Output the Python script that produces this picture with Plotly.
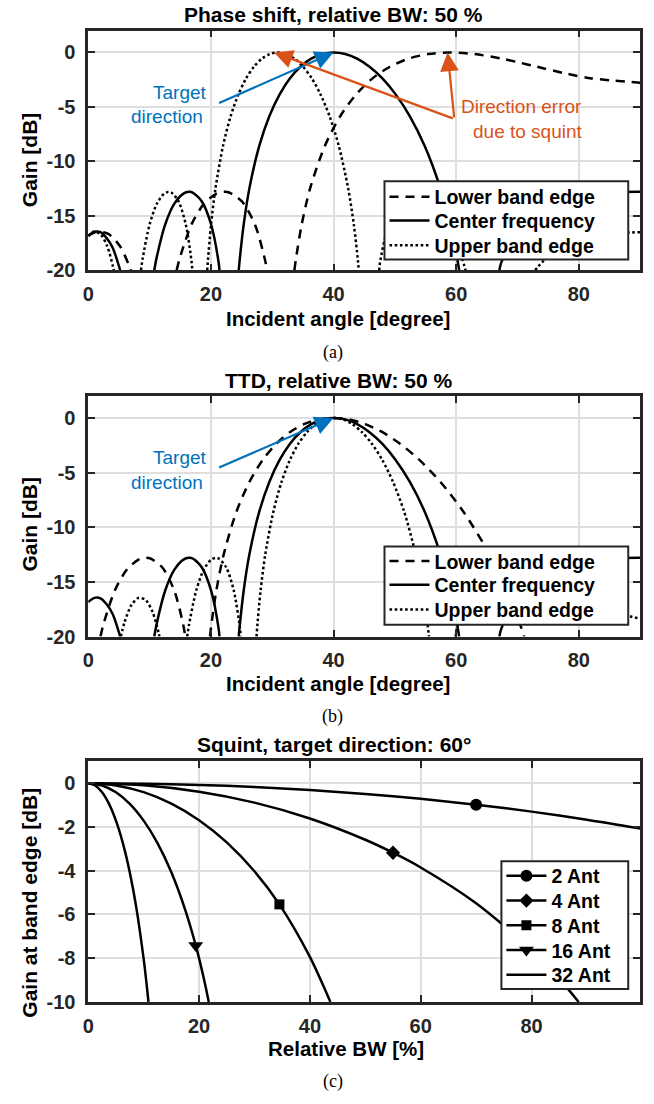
import plotly.graph_objects as go

W, H = 654, 1104

# ---------------- (a) Phase shift, relative BW 50 % ----------------
PS_LOWER_ANGLE = [0, 1.36, 3.27, 5.19, 6.72, 6.95, None,
                  14.42, 14.90, 16.88, 18.89, 20.92, 22.15, 22.98, 25.07, 27.20, 28.93, 29.10, None,
                  33.62, 33.85, 34.78, 36.18, 38.59, 41.08, 43.66, 46.36, 49.20, 52.22, 55.46, 58.99,
                  62.93, 67.46, 70.10, 73.17, 77.71, 82.06, 90]
PS_LOWER_GAIN = [-16.84, -16.46, -16.66, -17.80, -19.65, -20.0, None,
                 -20.0, -18.93, -15.74, -13.88, -12.96, -12.80, -12.86, -13.68, -15.82, -19.30, -20.0, None,
                 -20.0, -19.05, -15.88, -12.48, -8.58, -5.86, -3.87, -2.38, -1.31, -0.57, -0.14, 0.0,
                 -0.14, -0.57, -0.90, -1.31, -1.91, -2.38, -2.77]

CENTER_ANGLE = [0, 1, 2, 3, 4, 5, 5.2, None,
                10.77, 11.12, 12.58, 14.05, 15.53, 16.43, 17.03, 18.53, 20.05, 21.27, 21.40, None,
                24.54, 24.70, 25.33, 26.28, 27.89, 29.53, 31.19, 32.87, 34.60, 36.36, 38.16, 40,
                41.90, 43.85, 45.87, 47.97, 50.16, 52.45, 54.87, 57.44, 59.08, 60.21, 60.49, None,
                67.04, 67.35, 70.53, 75.42, 79.36, 83.12, 90]
CENTER_GAIN = [-16.84, -16.46, -16.50, -17.05, -17.95, -19.60, -20.0, None,
               -20.0, -18.93, -15.74, -13.88, -12.96, -12.80, -12.86, -13.68, -15.82, -19.30, -20.0, None,
               -20.0, -19.05, -15.88, -12.48, -8.58, -5.86, -3.87, -2.38, -1.31, -0.57, -0.14, 0.0,
               -0.14, -0.57, -1.31, -2.38, -3.87, -5.86, -8.58, -12.48, -15.88, -19.05, -20.0, None,
               -20.0, -19.30, -15.82, -13.68, -13.06, -12.86, -12.80]

PS_UPPER_ANGLE = [0, 0.82, 1.96, 3.11, 4.03, 4.17, None,
                  8.60, 8.87, 10.03, 11.20, 12.37, 13.07, 13.55, 14.73, 15.92, 16.87, 16.97, None,
                  19.40, 19.53, 20.01, 20.75, 21.98, 23.22, 24.47, 25.74, 27.02, 28.31, 29.62, 30.94,
                  32.29, 33.66, 35.05, 36.46, 37.90, 39.36, 40.86, 42.39, 43.33, 43.97, 44.12, None,
                  47.45, 47.58, 48.96, 50.74, 52.58, 53.34, 54.51, 56.54, 58.67, 60.96, 61.53, None,
                  72.89, 73.38, 76.93, 80.50, 83.83, 90]
PS_UPPER_GAIN = [-16.84, -16.46, -16.66, -17.80, -19.65, -20.0, None,
                 -20.0, -18.93, -15.74, -13.88, -12.96, -12.80, -12.86, -13.68, -15.82, -19.30, -20.0, None,
                 -20.0, -19.05, -15.88, -12.48, -8.58, -5.86, -3.87, -2.38, -1.31, -0.57, -0.14, 0.0,
                 -0.14, -0.57, -1.31, -2.38, -3.87, -5.86, -8.58, -12.48, -15.88, -19.05, -20.0, None,
                 -20.0, -19.30, -15.82, -13.68, -12.86, -12.80, -12.96, -13.88, -15.74, -18.93, -20.0, None,
                 -20.0, -19.65, -17.80, -16.99, -16.66, -16.50]

# ---------------- (b) TTD, relative BW 50 % ----------------
TTD_LOWER_ANGLE = [2.00, 2.45, 4.37, 6.29, 8.21, 9.37, 10.14, 12.09, 14.05, 15.63, 15.79, None,
                   19.85, 20.05, 20.86, 22.09, 24.17, 26.28, 28.43, 30.63, 32.87, 35.18, 37.55, 40,
                   42.54, 45.19, 47.97, 50.90, 54.05, 57.44, 61.18, 65.45, 68.36, 70.53, 71.10]
TTD_LOWER_GAIN = [-20.0, -18.93, -15.74, -13.88, -12.96, -12.80, -12.86, -13.68, -15.82, -19.30, -20.0, None,
                  -20.0, -19.05, -15.88, -12.48, -8.58, -5.86, -3.87, -2.38, -1.31, -0.57, -0.14, 0.0,
                  -0.14, -0.57, -1.31, -2.38, -3.87, -5.86, -8.58, -12.48, -15.88, -19.05, -20.0]

TTD_UPPER_ANGLE = [5.32, 5.90, 7.05, 8.21, 9.37, 10.53, 11.47, 11.61, None,
                   16.14, 16.43, 17.63, 18.83, 20.05, 20.78, 21.27, 22.51, 23.75, 24.76, 24.86, None,
                   27.44, 27.57, 28.09, 28.87, 30.19, 31.52, 32.87, 34.25, 35.65, 37.07, 38.52, 40,
                   41.51, 43.06, 44.65, 46.28, 47.97, 49.71, 51.52, 53.40, 54.57, 55.37, 55.57, None,
                   59.92, 60.09, 61.98, 64.53, 67.35, 68.55, 70.53, 74.35, 79.36, 84.20, 90]
TTD_UPPER_GAIN = [-20.0, -18.72, -17.11, -16.46, -16.66, -17.80, -19.65, -20.0, None,
                  -20.0, -18.93, -15.74, -13.88, -12.96, -12.80, -12.86, -13.68, -15.82, -19.30, -20.0, None,
                  -20.0, -19.05, -15.88, -12.48, -8.58, -5.86, -3.87, -2.38, -1.31, -0.57, -0.14, 0.0,
                  -0.14, -0.57, -1.31, -2.38, -3.87, -5.86, -8.58, -12.48, -15.88, -19.05, -20.0, None,
                  -20.0, -19.30, -15.82, -13.68, -12.86, -12.80, -12.96, -13.88, -15.74, -17.44, -18.37]

BAND_NAMES = ['Lower band edge', 'Center frequency', 'Upper band edge']

# ---------------- (c) Squint, target direction 60 deg ----------------
BW_2 = [0, 10, 20, 30, 40, 50, 60, 70, 80, 90, 99.6]
GAIN_2 = [0, -0.019, -0.077, -0.175, -0.313, -0.492, -0.714, -0.982, -1.299, -1.667, -2.075]
BW_4 = [0, 10, 20, 30, 40, 50, 55, 60, 70, 80, 85, 88.5]
GAIN_4 = [0, -0.097, -0.391, -0.889, -1.613, -2.585, -3.179, -3.853, -5.490, -7.625, -8.933, -10.0]
BW_8 = [0, 5, 10, 15, 20, 25, 30, 34.5, 40, 43, 43.7]
GAIN_8 = [0, -0.101, -0.410, -0.933, -1.690, -2.705, -4.028, -5.540, -7.939, -9.587, -10.0]
BW_16 = [0, 2.5, 5, 7.5, 10, 12.5, 15, 17.5, 19.4, 21, 21.75]
GAIN_16 = [0, -0.103, -0.415, -0.943, -1.710, -2.736, -4.072, -5.788, -7.416, -9.088, -10.0]
BW_32 = [0, 1.25, 2.5, 3.75, 5, 6.25, 7.5, 8.75, 10, 10.5, 10.87]
GAIN_32 = [0, -0.103, -0.416, -0.946, -1.714, -2.743, -4.082, -5.803, -8.036, -9.110, -10.0]
ANT_NAMES = ['2 Ant', '4 Ant', '8 Ant', '16 Ant', '32 Ant']
MARKER_INDEX = [7, 6, 7, 8]          # which sample of each curve carries the marker
MARKER_SYMBOLS = ['circle', 'diamond', 'square', 'triangle-down']
MARKER_SIZES = [12, 11, 10, 13]

# ---------------- styling ----------------
FONT = 'Liberation Sans, Arial, Helvetica, sans-serif'
SERIF = 'Liberation Serif, Times New Roman, serif'
AXC = '#262626'
BLUE = '#0072BD'
ORANGE = '#D95319'
LW = 2.5


def px(xp):
    return xp / W


def py(yp):
    return 1 - yp / H


X_DOM = [px(83), px(640)]
Y_DOM = {'a': [py(273), py(31)], 'b': [py(643), py(400)], 'c': [py(1012), py(769)]}

# legend boxes (left, top, right, bottom) and row centres, in pixels
LEG_BOX = {'a': (382, 183, 628, 262), 'b': (382, 552, 628, 631), 'c': (500, 870, 628, 999)}
LEG_ROWS = {'a': [199, 223, 248], 'b': [567, 591, 616], 'c': [885, 910, 935, 960, 985]}

fig = go.Figure()
leg_font = dict(family=FONT, size=19.5, color='black', weight='bold')
legend_layouts = {}
leg_counter = [0]


def new_legend(panel, row):
    leg_counter[0] += 1
    key = 'legend' if leg_counter[0] == 1 else 'legend%d' % leg_counter[0]
    legend_layouts[key] = dict(x=px(LEG_BOX[panel][0]), y=py(LEG_ROWS[panel][row]),
                               xanchor='left', yanchor='middle', bgcolor='rgba(0,0,0,0)',
                               borderwidth=0, font=leg_font, itemwidth=40)
    return key


band_dash = ['9px,7px', 'solid', '2.6px,2.6px']
panels_ab = [
    ('a', 'x', 'y', [(PS_LOWER_ANGLE, PS_LOWER_GAIN), (CENTER_ANGLE, CENTER_GAIN), (PS_UPPER_ANGLE, PS_UPPER_GAIN)]),
    ('b', 'x2', 'y2', [(TTD_LOWER_ANGLE, TTD_LOWER_GAIN), (CENTER_ANGLE, CENTER_GAIN), (TTD_UPPER_ANGLE, TTD_UPPER_GAIN)]),
]
for panel, xa, ya, series in panels_ab:
    for i, ((xs, ys), name, dash) in enumerate(zip(series, BAND_NAMES, band_dash)):
        fig.add_trace(go.Scatter(x=xs, y=ys, mode='lines', name=name, connectgaps=False,
                                 line=dict(color='black', width=LW, dash=dash, shape='spline', smoothing=0.8),
                                 xaxis=xa, yaxis=ya, legend=new_legend(panel, i)))

ant_curves = [(BW_2, GAIN_2), (BW_4, GAIN_4), (BW_8, GAIN_8), (BW_16, GAIN_16), (BW_32, GAIN_32)]
for (xs, ys) in ant_curves[:4]:
    fig.add_trace(go.Scatter(x=xs, y=ys, mode='lines', showlegend=False,
                             line=dict(color='black', width=LW, shape='spline', smoothing=0.8),
                             xaxis='x3', yaxis='y3'))
for i, ((xs, ys), name, idx, sym, sz) in enumerate(zip(ant_curves[:4], ANT_NAMES[:4], MARKER_INDEX,
                                                        MARKER_SYMBOLS, MARKER_SIZES)):
    fig.add_trace(go.Scatter(x=[xs[idx]], y=[ys[idx]], mode='lines+markers', name=name,
                             line=dict(color='black', width=LW),
                             marker=dict(symbol=sym, size=sz, color='black'),
                             xaxis='x3', yaxis='y3', legend=new_legend('c', i)))
fig.add_trace(go.Scatter(x=BW_32, y=GAIN_32, mode='lines', name=ANT_NAMES[4],
                         line=dict(color='black', width=LW, shape='spline', smoothing=0.8),
                         xaxis='x3', yaxis='y3', legend=new_legend('c', 4)))


def axis(domain, rng, vals, anchor, standoff):
    return dict(domain=domain, range=rng, anchor=anchor, tickvals=vals,
                ticktext=[('%g' % v) for v in vals],
                showline=True, linecolor=AXC, linewidth=2.5, mirror='ticks',
                ticks='inside', ticklen=7, tickwidth=2, tickcolor=AXC,
                showgrid=True, gridcolor='#dedede', gridwidth=2, zeroline=False,
                tickfont=dict(family=FONT, size=20, color=AXC, weight='bold'),
                ticklabelstandoff=standoff)


ang_ticks = [0, 20, 40, 60, 80]
db_ticks = [-20, -15, -10, -5, 0]
fig.update_layout(
    xaxis=axis(X_DOM, [0, 90], ang_ticks, 'y', 4),
    yaxis=axis(Y_DOM['a'], [-20, 2], db_ticks, 'x', 6),
    xaxis2=axis(X_DOM, [0, 90], ang_ticks, 'y2', 4),
    yaxis2=axis(Y_DOM['b'], [-20, 2], db_ticks, 'x2', 6),
    xaxis3=axis(X_DOM, [0, 99.6], ang_ticks, 'y3', 4),
    yaxis3=axis(Y_DOM['c'], [-10, 1], [-10, -8, -6, -4, -2, 0], 'x3', 6),
)
fig.update_layout(**legend_layouts)

shapes = []
for (x0, y0, x1, y1) in LEG_BOX.values():
    shapes.append(dict(type='rect', xref='paper', yref='paper', x0=px(x0), x1=px(x1), y0=py(y1), y1=py(y0),
                       fillcolor='white', line=dict(color=AXC, width=2), layer='above'))

ann = []


def text(xp, yp, s, size=21, bold=True, angle=0, family=FONT, color='black'):
    ann.append(dict(x=px(xp), y=py(yp), xref='paper', yref='paper', text=s, showarrow=False,
                    xanchor='center', yanchor='middle', textangle=angle,
                    font=dict(family=family, size=size, color=color, weight='bold' if bold else 'normal')))


# titles
text(331, 15, 'Phase shift, relative BW: 50 %')
text(336, 384, 'TTD, relative BW: 50 %')
text(331, 752, 'Squint, target direction: 60°')
# axis titles
text(335, 322, 'Incident angle [degree]', size=20.5)
text(335, 690, 'Incident angle [degree]', size=20.5)
text(343, 1059, 'Relative BW [%]', size=20.5)
text(24, 161, 'Gain [dB]', angle=-90)
text(24, 529, 'Gain [dB]', angle=-90)
text(24, 912, 'Gain at band edge [dB]', angle=-90)
# captions
text(330, 356, '(a)', size=18, bold=False, family=SERIF)
text(330, 724, '(b)', size=18, bold=False, family=SERIF)
text(330, 1092, '(c)', size=18, bold=False, family=SERIF)
# callout texts
text(176, 93, 'Target', size=19, bold=False, color=BLUE)
text(162, 118, 'direction', size=19, bold=False, color=BLUE)
text(176, 462, 'Target', size=19, bold=False, color=BLUE)
text(162, 487, 'direction', size=19, bold=False, color=BLUE)
text(520, 108, 'Direction error', size=19, bold=False, color=ORANGE)
text(527, 133, 'due to squint', size=19, bold=False, color=ORANGE)


def arrow(xr, yr, tail, head, color):
    ann.append(dict(xref=xr, yref=yr, axref=xr, ayref=yr, x=head[0], y=head[1], ax=tail[0], ay=tail[1],
                    text='', showarrow=True, arrowhead=2, arrowsize=1.7, arrowwidth=2.2,
                    arrowcolor=color, standoff=0, startstandoff=0))


arrow('x', 'y', (21.1, -4.7), (40.0, 0.0), BLUE)
arrow('x2', 'y2', (21.1, -4.6), (40.0, 0.0), BLUE)
arrow('x', 'y', (59.7, -6.1), (30.3, 0.0), ORANGE)
arrow('x', 'y', (59.7, -6.1), (58.6, 0.0), ORANGE)

fig.update_layout(width=W, height=H, margin=dict(l=0, r=0, t=0, b=0),
                  paper_bgcolor='white', plot_bgcolor='white',
                  annotations=ann, shapes=shapes, showlegend=True)

fig.write_html('out.html',
               post_script="document.body.style.margin='0';document.body.style.overflow='hidden';")
